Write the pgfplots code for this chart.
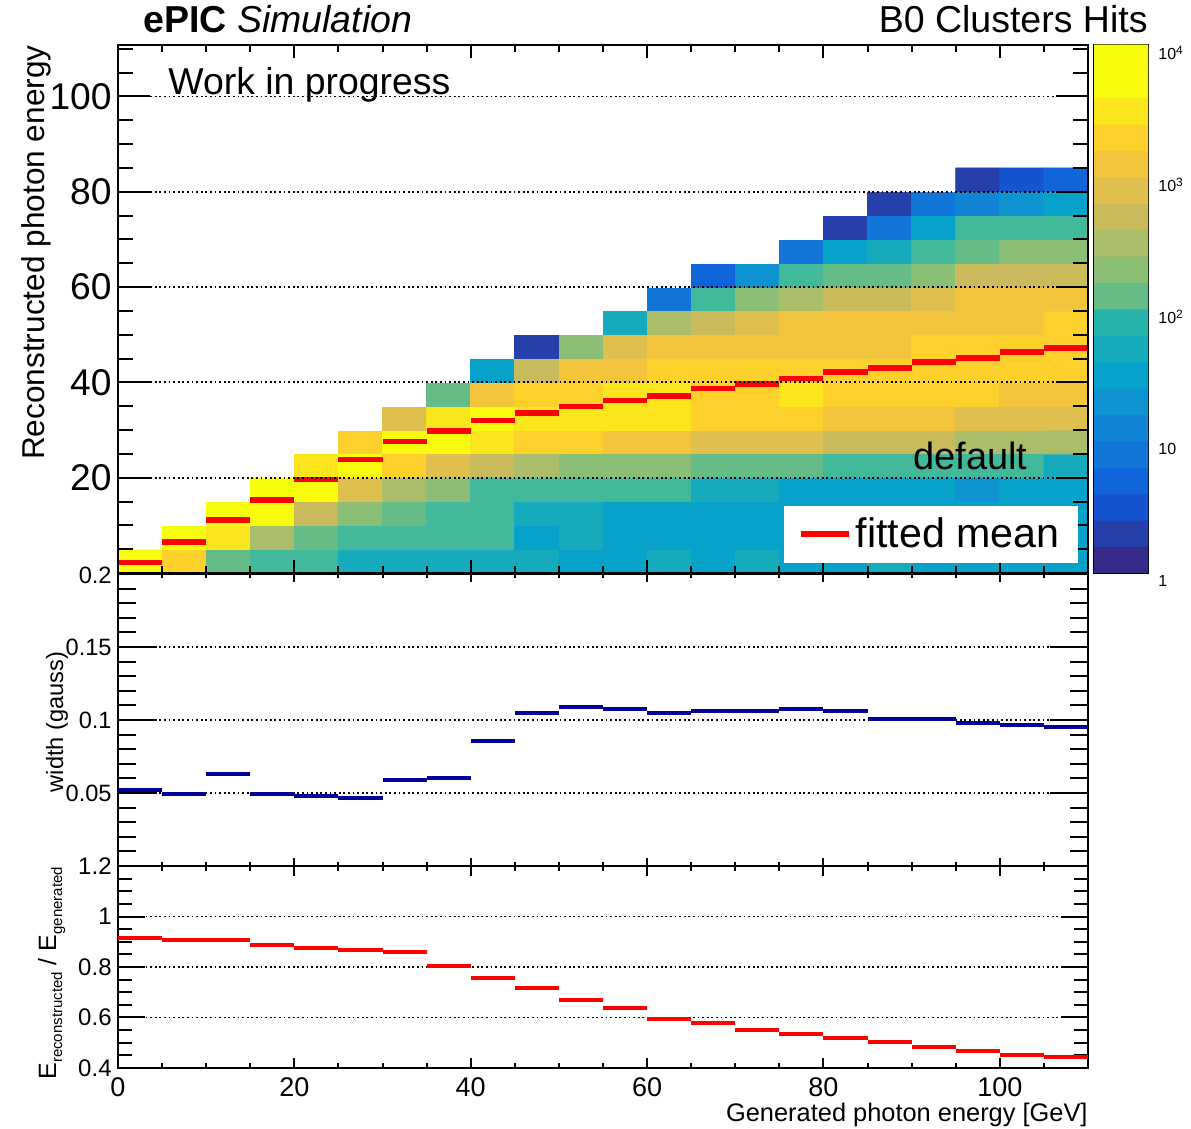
\documentclass[border=0pt]{standalone}
\usepackage{fontspec}
\setmainfont{Liberation Sans}
\usepackage{pgfplots}
\pgfplotsset{compat=1.18}
\definecolor{navy}{RGB}{0,0,153}
\definecolor{rootred}{RGB}{255,0,0}
\pgfplotsset{
 colormap={birdw}{rgb255=(255,255,255) rgb255=(53,42,135) rgb255=(37,63,171) rgb255=(21,84,208) rgb255=(16,101,219) rgb255=(18,117,216) rgb255=(18,132,213) rgb255=(13,147,208) rgb255=(7,162,202) rgb255=(21,171,188) rgb255=(38,179,172) rgb255=(65,185,154) rgb255=(102,188,135) rgb255=(139,191,117) rgb255=(170,189,105) rgb255=(201,187,92) rgb255=(223,191,77) rgb255=(242,197,61) rgb255=(253,208,44) rgb255=(251,230,29) rgb255=(249,251,14) rgb255=(249,251,14)},
 colormap={bird20}{rgb255=(53,42,135) rgb255=(37,63,171) rgb255=(21,84,208) rgb255=(16,101,219) rgb255=(18,117,216) rgb255=(18,132,213) rgb255=(13,147,208) rgb255=(7,162,202) rgb255=(21,171,188) rgb255=(38,179,172) rgb255=(65,185,154) rgb255=(102,188,135) rgb255=(139,191,117) rgb255=(170,189,105) rgb255=(201,187,92) rgb255=(223,191,77) rgb255=(242,197,61) rgb255=(253,208,44) rgb255=(251,230,29) rgb255=(249,251,14) rgb255=(249,251,14)},
 rootpanel/.style={scale only axis, width=485pt, xmin=0, xmax=110,
   tick align=inside, axis line style={line width=1pt},
   every tick/.style={black, line width=1pt},
   ymajorgrids, major grid style={black, line width=0.9pt, dash pattern=on 0.9pt off 1.4pt},
   /pgf/number format/assume math mode=true,
   xtick={0,20,40,60,80,100},
   minor xtick={5,10,15,25,30,35,45,50,55,65,70,75,85,90,95,105},
   yticklabel style={inner sep=0pt, anchor=east, xshift=-3pt},
 },
}
\begin{document}
\begin{tikzpicture}
\useasboundingbox (0pt,0pt) rectangle (595.5pt,564.5pt);
% ---------------- top panel ----------------
\begin{axis}[rootpanel, at={(59pt,278pt)}, anchor=south west, height=264pt,
  ymin=0, ymax=110.8, axis on top,
  xticklabels={},
  ytick={0,20,40,60,80,100}, yticklabels={{},20,40,60,80,100},
  minor ytick={5,10,15,25,30,35,45,50,55,65,70,75,85,90,95,105,110},
  yticklabel style={font=\fontsize{18.6}{20}\selectfont},
  major x tick style={/pgfplots/major tick length=6.5pt},
  minor x tick style={/pgfplots/minor tick length=3.5pt},
  major y tick style={/pgfplots/major tick length=16pt},
  minor y tick style={/pgfplots/minor tick length=7.5pt},
  colormap name=birdw, colormap access=piecewise constant,
  point meta min=-0.2, point meta max=4,
  legend style={at={(rel axis cs:0.9897,0.019)}, anchor=south east, draw=none, fill=white,
    font=\fontsize{20.6}{22}\selectfont, inner xsep=7pt, inner ysep=4pt, cells={anchor=west}},
  legend image code/.code={\draw[rootred, line width=2.8pt] (0pt,0pt) -- (24pt,0pt);},
]
\addplot[matrix plot*, mesh/cols=22, point meta=explicit, forget plot] coordinates {
(2.5,2.5)[3.9] (7.5,2.5)[3.3] (12.5,2.5)[2.1] (17.5,2.5)[1.9] (22.5,2.5)[1.9] (27.5,2.5)[1.7] (32.5,2.5)[1.7] (37.5,2.5)[1.7] (42.5,2.5)[1.7] (47.5,2.5)[1.7] (52.5,2.5)[1.5] (57.5,2.5)[1.5] (62.5,2.5)[1.7] (67.5,2.5)[1.5] (72.5,2.5)[1.7] (77.5,2.5)[1.5] (82.5,2.5)[1.5] (87.5,2.5)[1.7] (92.5,2.5)[1.5] (97.5,2.5)[1.5] (102.5,2.5)[1.5] (107.5,2.5)[1.5]

(2.5,7.5)[-1] (7.5,7.5)[3.9] (12.5,7.5)[3.5] (17.5,7.5)[2.5] (22.5,7.5)[2.1] (27.5,7.5)[1.9] (32.5,7.5)[1.9] (37.5,7.5)[1.9] (42.5,7.5)[1.9] (47.5,7.5)[1.5] (52.5,7.5)[1.7] (57.5,7.5)[1.5] (62.5,7.5)[1.5] (67.5,7.5)[1.5] (72.5,7.5)[1.5] (77.5,7.5)[1.5] (82.5,7.5)[1.5] (87.5,7.5)[1.5] (92.5,7.5)[1.5] (97.5,7.5)[1.5] (102.5,7.5)[1.5] (107.5,7.5)[1.5]

(2.5,12.5)[-1] (7.5,12.5)[-1] (12.5,12.5)[3.9] (17.5,12.5)[3.7] (22.5,12.5)[2.7] (27.5,12.5)[2.3] (32.5,12.5)[2.1] (37.5,12.5)[1.9] (42.5,12.5)[1.9] (47.5,12.5)[1.7] (52.5,12.5)[1.7] (57.5,12.5)[1.5] (62.5,12.5)[1.5] (67.5,12.5)[1.5] (72.5,12.5)[1.5] (77.5,12.5)[1.5] (82.5,12.5)[1.5] (87.5,12.5)[1.5] (92.5,12.5)[1.5] (97.5,12.5)[1.5] (102.5,12.5)[1.5] (107.5,12.5)[1.5]

(2.5,17.5)[-1] (7.5,17.5)[-1] (12.5,17.5)[-1] (17.5,17.5)[3.9] (22.5,17.5)[3.7] (27.5,17.5)[2.9] (32.5,17.5)[2.5] (37.5,17.5)[2.3] (42.5,17.5)[1.9] (47.5,17.5)[1.9] (52.5,17.5)[1.9] (57.5,17.5)[1.9] (62.5,17.5)[1.9] (67.5,17.5)[1.7] (72.5,17.5)[1.7] (77.5,17.5)[1.5] (82.5,17.5)[1.5] (87.5,17.5)[1.5] (92.5,17.5)[1.5] (97.5,17.5)[1.3] (102.5,17.5)[1.5] (107.5,17.5)[1.5]

(2.5,22.5)[-1] (7.5,22.5)[-1] (12.5,22.5)[-1] (17.5,22.5)[-1] (22.5,22.5)[3.5] (27.5,22.5)[3.7] (32.5,22.5)[3.3] (37.5,22.5)[2.9] (42.5,22.5)[2.7] (47.5,22.5)[2.5] (52.5,22.5)[2.3] (57.5,22.5)[2.3] (62.5,22.5)[2.3] (67.5,22.5)[2.1] (72.5,22.5)[2.1] (77.5,22.5)[2.1] (82.5,22.5)[1.9] (87.5,22.5)[1.9] (92.5,22.5)[1.9] (97.5,22.5)[1.9] (102.5,22.5)[1.9] (107.5,22.5)[1.7]

(2.5,27.5)[-1] (7.5,27.5)[-1] (12.5,27.5)[-1] (17.5,27.5)[-1] (22.5,27.5)[-1] (27.5,27.5)[3.3] (32.5,27.5)[3.9] (37.5,27.5)[3.7] (42.5,27.5)[3.5] (47.5,27.5)[3.3] (52.5,27.5)[3.3] (57.5,27.5)[3.1] (62.5,27.5)[3.1] (67.5,27.5)[2.9] (72.5,27.5)[2.9] (77.5,27.5)[2.9] (82.5,27.5)[2.7] (87.5,27.5)[2.7] (92.5,27.5)[2.7] (97.5,27.5)[2.5] (102.5,27.5)[2.5] (107.5,27.5)[2.5]

(2.5,32.5)[-1] (7.5,32.5)[-1] (12.5,32.5)[-1] (17.5,32.5)[-1] (22.5,32.5)[-1] (27.5,32.5)[-1] (32.5,32.5)[2.9] (37.5,32.5)[3.5] (42.5,32.5)[3.7] (47.5,32.5)[3.5] (52.5,32.5)[3.5] (57.5,32.5)[3.5] (62.5,32.5)[3.5] (67.5,32.5)[3.3] (72.5,32.5)[3.3] (77.5,32.5)[3.3] (82.5,32.5)[3.1] (87.5,32.5)[3.1] (92.5,32.5)[3.1] (97.5,32.5)[2.9] (102.5,32.5)[2.9] (107.5,32.5)[2.9]

(2.5,37.5)[-1] (7.5,37.5)[-1] (12.5,37.5)[-1] (17.5,37.5)[-1] (22.5,37.5)[-1] (27.5,37.5)[-1] (32.5,37.5)[-1] (37.5,37.5)[2.1] (42.5,37.5)[3.1] (47.5,37.5)[3.3] (52.5,37.5)[3.3] (57.5,37.5)[3.5] (62.5,37.5)[3.5] (67.5,37.5)[3.3] (72.5,37.5)[3.3] (77.5,37.5)[3.5] (82.5,37.5)[3.3] (87.5,37.5)[3.3] (92.5,37.5)[3.3] (97.5,37.5)[3.3] (102.5,37.5)[3.1] (107.5,37.5)[3.1]

(2.5,42.5)[-1] (7.5,42.5)[-1] (12.5,42.5)[-1] (17.5,42.5)[-1] (22.5,42.5)[-1] (27.5,42.5)[-1] (32.5,42.5)[-1] (37.5,42.5)[-1] (42.5,42.5)[1.5] (47.5,42.5)[2.7] (52.5,42.5)[3.1] (57.5,42.5)[3.1] (62.5,42.5)[3.3] (67.5,42.5)[3.3] (72.5,42.5)[3.3] (77.5,42.5)[3.3] (82.5,42.5)[3.3] (87.5,42.5)[3.3] (92.5,42.5)[3.3] (97.5,42.5)[3.3] (102.5,42.5)[3.3] (107.5,42.5)[3.3]

(2.5,47.5)[-1] (7.5,47.5)[-1] (12.5,47.5)[-1] (17.5,47.5)[-1] (22.5,47.5)[-1] (27.5,47.5)[-1] (32.5,47.5)[-1] (37.5,47.5)[-1] (42.5,47.5)[-1] (47.5,47.5)[0.3] (52.5,47.5)[2.3] (57.5,47.5)[2.9] (62.5,47.5)[3.1] (67.5,47.5)[3.1] (72.5,47.5)[3.1] (77.5,47.5)[3.1] (82.5,47.5)[3.1] (87.5,47.5)[3.1] (92.5,47.5)[3.3] (97.5,47.5)[3.3] (102.5,47.5)[3.3] (107.5,47.5)[3.3]

(2.5,52.5)[-1] (7.5,52.5)[-1] (12.5,52.5)[-1] (17.5,52.5)[-1] (22.5,52.5)[-1] (27.5,52.5)[-1] (32.5,52.5)[-1] (37.5,52.5)[-1] (42.5,52.5)[-1] (47.5,52.5)[-1] (52.5,52.5)[-1] (57.5,52.5)[1.7] (62.5,52.5)[2.5] (67.5,52.5)[2.7] (72.5,52.5)[2.9] (77.5,52.5)[3.1] (82.5,52.5)[3.1] (87.5,52.5)[3.1] (92.5,52.5)[3.1] (97.5,52.5)[3.1] (102.5,52.5)[3.1] (107.5,52.5)[3.3]

(2.5,57.5)[-1] (7.5,57.5)[-1] (12.5,57.5)[-1] (17.5,57.5)[-1] (22.5,57.5)[-1] (27.5,57.5)[-1] (32.5,57.5)[-1] (37.5,57.5)[-1] (42.5,57.5)[-1] (47.5,57.5)[-1] (52.5,57.5)[-1] (57.5,57.5)[-1] (62.5,57.5)[0.9] (67.5,57.5)[1.9] (72.5,57.5)[2.3] (77.5,57.5)[2.5] (82.5,57.5)[2.7] (87.5,57.5)[2.7] (92.5,57.5)[2.9] (97.5,57.5)[3.1] (102.5,57.5)[3.1] (107.5,57.5)[3.1]

(2.5,62.5)[-1] (7.5,62.5)[-1] (12.5,62.5)[-1] (17.5,62.5)[-1] (22.5,62.5)[-1] (27.5,62.5)[-1] (32.5,62.5)[-1] (37.5,62.5)[-1] (42.5,62.5)[-1] (47.5,62.5)[-1] (52.5,62.5)[-1] (57.5,62.5)[-1] (62.5,62.5)[-1] (67.5,62.5)[0.7] (72.5,62.5)[1.3] (77.5,62.5)[1.9] (82.5,62.5)[2.1] (87.5,62.5)[2.1] (92.5,62.5)[2.3] (97.5,62.5)[2.7] (102.5,62.5)[2.7] (107.5,62.5)[2.7]

(2.5,67.5)[-1] (7.5,67.5)[-1] (12.5,67.5)[-1] (17.5,67.5)[-1] (22.5,67.5)[-1] (27.5,67.5)[-1] (32.5,67.5)[-1] (37.5,67.5)[-1] (42.5,67.5)[-1] (47.5,67.5)[-1] (52.5,67.5)[-1] (57.5,67.5)[-1] (62.5,67.5)[-1] (67.5,67.5)[-1] (72.5,67.5)[-1] (77.5,67.5)[0.9] (82.5,67.5)[1.5] (87.5,67.5)[1.7] (92.5,67.5)[1.9] (97.5,67.5)[2.1] (102.5,67.5)[2.3] (107.5,67.5)[2.3]

(2.5,72.5)[-1] (7.5,72.5)[-1] (12.5,72.5)[-1] (17.5,72.5)[-1] (22.5,72.5)[-1] (27.5,72.5)[-1] (32.5,72.5)[-1] (37.5,72.5)[-1] (42.5,72.5)[-1] (47.5,72.5)[-1] (52.5,72.5)[-1] (57.5,72.5)[-1] (62.5,72.5)[-1] (67.5,72.5)[-1] (72.5,72.5)[-1] (77.5,72.5)[-1] (82.5,72.5)[0.3] (87.5,72.5)[0.9] (92.5,72.5)[1.5] (97.5,72.5)[1.9] (102.5,72.5)[1.9] (107.5,72.5)[1.9]

(2.5,77.5)[-1] (7.5,77.5)[-1] (12.5,77.5)[-1] (17.5,77.5)[-1] (22.5,77.5)[-1] (27.5,77.5)[-1] (32.5,77.5)[-1] (37.5,77.5)[-1] (42.5,77.5)[-1] (47.5,77.5)[-1] (52.5,77.5)[-1] (57.5,77.5)[-1] (62.5,77.5)[-1] (67.5,77.5)[-1] (72.5,77.5)[-1] (77.5,77.5)[-1] (82.5,77.5)[-1] (87.5,77.5)[0.3] (92.5,77.5)[0.9] (97.5,77.5)[1.1] (102.5,77.5)[1.3] (107.5,77.5)[1.5]

(2.5,82.5)[-1] (7.5,82.5)[-1] (12.5,82.5)[-1] (17.5,82.5)[-1] (22.5,82.5)[-1] (27.5,82.5)[-1] (32.5,82.5)[-1] (37.5,82.5)[-1] (42.5,82.5)[-1] (47.5,82.5)[-1] (52.5,82.5)[-1] (57.5,82.5)[-1] (62.5,82.5)[-1] (67.5,82.5)[-1] (72.5,82.5)[-1] (77.5,82.5)[-1] (82.5,82.5)[-1] (87.5,82.5)[-1] (92.5,82.5)[-1] (97.5,82.5)[0.3] (102.5,82.5)[0.5] (107.5,82.5)[0.7]
};
\addplot[draw=none, mark=none, error bars/.cd, x dir=both, x fixed=2.5, error mark=none,
  error bar style={line width=2.8pt, rootred}] coordinates {
(2.5,2.17) (7.5,6.45) (12.5,11.06) (17.5,15.3) (22.5,19.6) (27.5,23.85) (32.5,27.6) (37.5,29.8) (42.5,31.96) (47.5,33.6) (52.5,34.95) (57.5,36.2) (62.5,37.1) (67.5,38.7) (72.5,39.6) (77.5,40.8) (82.5,42.2) (87.5,43.0) (92.5,44.3) (97.5,45.1) (102.5,46.4) (107.5,47.2)
};
\addlegendentry{fitted mean}
\end{axis}
% ---------------- colorbar ----------------
\begin{axis}[at={(547pt,278pt)}, anchor=south west, scale only axis, width=27pt, height=264pt,
  xmin=0, xmax=1, ymin=0, ymax=4, xtick=\empty,
  axis line style={line width=0.6pt},
  tick align=inside, ytick pos=right, yticklabel pos=right,
  every tick/.style={black, line width=1pt},
  ytick={0,1,2,3,4}, yticklabels={1,10,10\textsuperscript{2},10\textsuperscript{3},10\textsuperscript{4}},
  minor ytick={0.301,0.477,0.602,0.699,0.778,0.845,0.903,0.954,1.301,1.477,1.602,1.699,1.778,1.845,1.903,1.954,2.301,2.477,2.602,2.699,2.778,2.845,2.903,2.954,3.301,3.477,3.602,3.699,3.778,3.845,3.903,3.954},
  major tick length=17pt, minor tick length=8pt,
  yticklabel style={font=\fontsize{8}{9}\selectfont, anchor=west, inner sep=0pt, xshift=5pt, yshift=-4pt},
  colormap name=bird20, colormap access=piecewise constant,
  point meta min=0, point meta max=4,
]
\addplot[matrix plot*, mesh/cols=2, point meta=explicit] coordinates {
(0.25,0.1)[0.1] (0.75,0.1)[0.1]

(0.25,0.3)[0.3] (0.75,0.3)[0.3]

(0.25,0.5)[0.5] (0.75,0.5)[0.5]

(0.25,0.7)[0.7] (0.75,0.7)[0.7]

(0.25,0.9)[0.9] (0.75,0.9)[0.9]

(0.25,1.1)[1.1] (0.75,1.1)[1.1]

(0.25,1.3)[1.3] (0.75,1.3)[1.3]

(0.25,1.5)[1.5] (0.75,1.5)[1.5]

(0.25,1.7)[1.7] (0.75,1.7)[1.7]

(0.25,1.9)[1.9] (0.75,1.9)[1.9]

(0.25,2.1)[2.1] (0.75,2.1)[2.1]

(0.25,2.3)[2.3] (0.75,2.3)[2.3]

(0.25,2.5)[2.5] (0.75,2.5)[2.5]

(0.25,2.7)[2.7] (0.75,2.7)[2.7]

(0.25,2.9)[2.9] (0.75,2.9)[2.9]

(0.25,3.1)[3.1] (0.75,3.1)[3.1]

(0.25,3.3)[3.3] (0.75,3.3)[3.3]

(0.25,3.5)[3.5] (0.75,3.5)[3.5]

(0.25,3.7)[3.7] (0.75,3.7)[3.7]

(0.25,3.9)[3.9] (0.75,3.9)[3.9]
};
\end{axis}
% ---------------- middle panel ----------------
\begin{axis}[rootpanel, at={(59pt,131.5pt)}, anchor=south west, height=146pt,
  ymin=0, ymax=0.2, xticklabels={},
  ytick={0,0.05,0.1,0.15,0.2}, yticklabels={{},0.05,0.1,0.15,{}},
  minor ytick={0.01,0.02,0.03,0.04,0.06,0.07,0.08,0.09,0.11,0.12,0.13,0.14,0.16,0.17,0.18,0.19},
  yticklabel style={font=\fontsize{11.8}{13}\selectfont},
  major x tick style={/pgfplots/major tick length=4pt},
  minor x tick style={/pgfplots/minor tick length=2pt},
  major y tick style={/pgfplots/major tick length=19pt},
  minor y tick style={/pgfplots/minor tick length=9pt},
]
\addplot[draw=none, mark=none, error bars/.cd, x dir=both, x fixed=2.5, error mark=none,
  error bar style={line width=2pt, navy}] coordinates {
(2.5,0.0518) (7.5,0.0491) (12.5,0.0631) (17.5,0.0491) (22.5,0.0477) (27.5,0.0466) (32.5,0.0589) (37.5,0.0603) (42.5,0.0853) (47.5,0.1048) (52.5,0.1092) (57.5,0.1078) (62.5,0.1048) (67.5,0.1062) (72.5,0.1062) (77.5,0.1078) (82.5,0.1062) (87.5,0.1005) (92.5,0.1005) (97.5,0.0982) (102.5,0.0966) (107.5,0.0952)
};
\end{axis}
% ---------------- bottom panel ----------------
\begin{axis}[rootpanel, at={(59pt,30.5pt)}, anchor=south west, height=101pt,
  ymin=0.4, ymax=1.2,
  xticklabels={0,20,40,60,80,100},
  xticklabel style={font=\fontsize{13.5}{15}\selectfont, inner sep=0pt, anchor=north, yshift=-4.5pt},
  ytick={0.4,0.6,0.8,1,1.2}, yticklabels={0.4,0.6,0.8,1,1.2},
  minor ytick={0.45,0.5,0.55,0.65,0.7,0.75,0.85,0.9,0.95,1.05,1.1,1.15},
  yticklabel style={font=\fontsize{12}{13}\selectfont},
  major x tick style={/pgfplots/major tick length=5pt},
  minor x tick style={/pgfplots/minor tick length=2.5pt},
  major y tick style={/pgfplots/major tick length=13.7pt},
  minor y tick style={/pgfplots/minor tick length=7pt},
]
\addplot[draw=none, mark=none, error bars/.cd, x dir=both, x fixed=2.5, error mark=none,
  error bar style={line width=2pt, rootred}] coordinates {
(2.5,0.916) (7.5,0.908) (12.5,0.908) (17.5,0.886) (22.5,0.876) (27.5,0.868) (32.5,0.861) (37.5,0.805) (42.5,0.757) (47.5,0.716) (52.5,0.668) (57.5,0.637) (62.5,0.596) (67.5,0.580) (72.5,0.549) (77.5,0.533) (82.5,0.517) (87.5,0.501) (92.5,0.484) (97.5,0.468) (102.5,0.453) (107.5,0.445)
};
\end{axis}
% ---------------- texts ----------------
\node[anchor=base west, inner sep=0pt, font=\fontsize{18.75}{20}\selectfont] at (71.5pt,548pt) {\textbf{ePIC} \textit{Simulation}};
\node[anchor=base east, inner sep=0pt, font=\fontsize{18.75}{20}\selectfont] at (574pt,548pt) {B0 Clusters Hits};
\node[anchor=base west, inner sep=0pt, font=\fontsize{18.7}{20}\selectfont] at (84pt,517pt) {Work in progress};
\node[anchor=base west, inner sep=0pt, font=\fontsize{19}{20}\selectfont] at (456.5pt,329.5pt) {default};
\node[rotate=90, anchor=base east, inner sep=0pt, font=\fontsize{15.8}{17}\selectfont] at (22.5pt,542pt) {Reconstructed photon energy};
\node[rotate=90, anchor=base, inner sep=0pt, font=\fontsize{11.8}{13}\selectfont] at (31.5pt,203.5pt) {width (gauss)};
\begin{scope}
\clip (0pt,0pt) rectangle (58pt,133.5pt);
\node[rotate=90, anchor=base west, inner sep=0pt, font=\fontsize{12.5}{14}\selectfont] at (28pt,24.5pt) {E\raisebox{-3pt}{\fontsize{7.5}{8}\selectfont reconstructed} / E\raisebox{-3pt}{\fontsize{7.5}{8}\selectfont generated}};
\end{scope}
\begin{scope}
\clip (0pt,0pt) rectangle (58pt,281pt);
\node[anchor=east, inner sep=0pt, font=\fontsize{11.8}{13}\selectfont] at (56pt,277pt) {0.2};
\end{scope}
\node[anchor=base east, inner sep=0pt, font=\fontsize{12.7}{14}\selectfont] at (544pt,3.5pt) {Generated photon energy [GeV]};
\end{tikzpicture}
\end{document}
